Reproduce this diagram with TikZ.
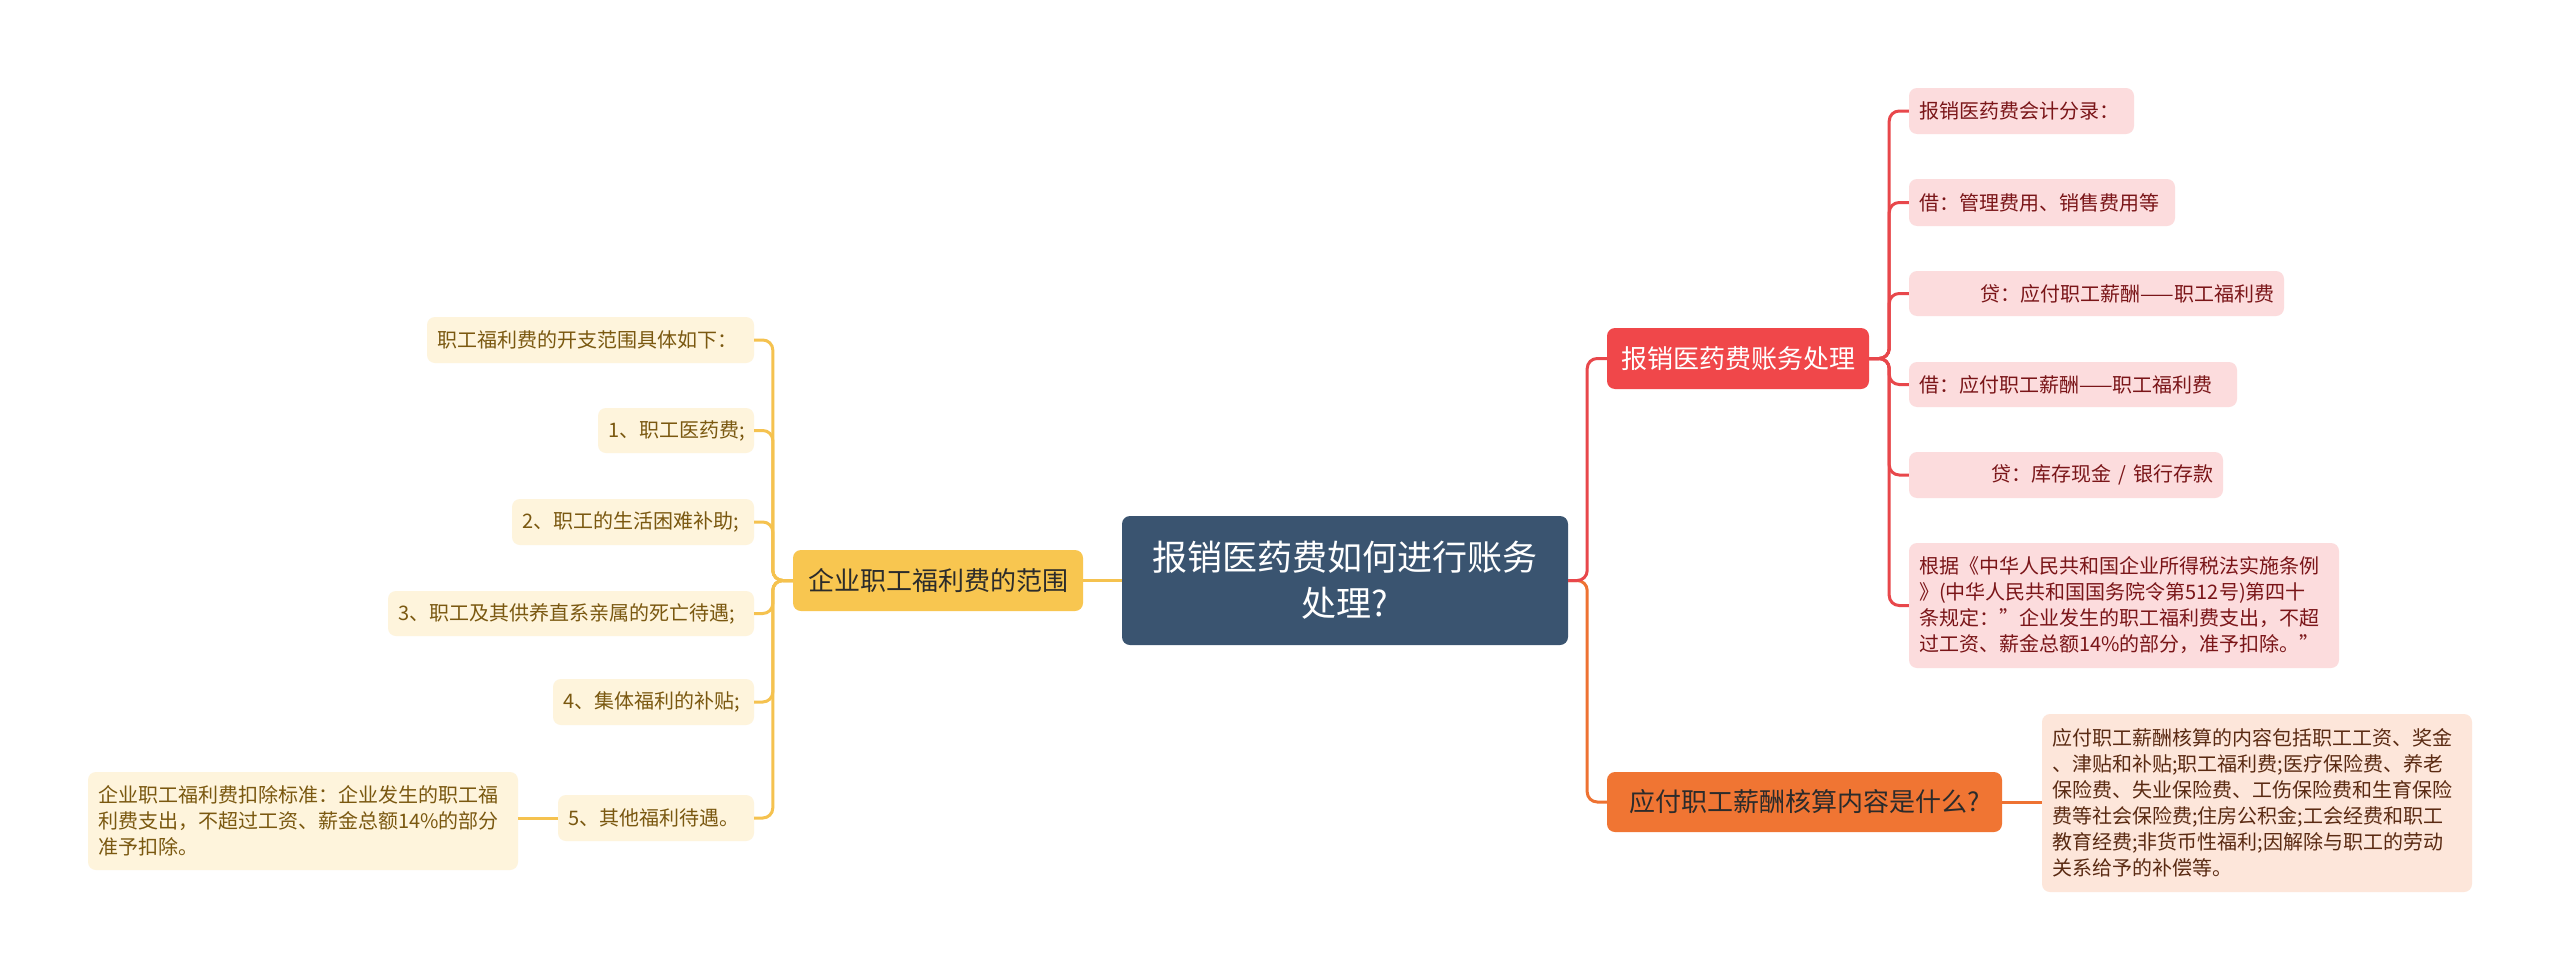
\documentclass[tikz,border=0pt]{standalone}
\usepackage{fontspec}
\newfontfamily\cjk{Noto Sans CJK SC}
\definecolor{cen}{HTML}{3A5470}
\definecolor{redm}{HTML}{F0474A}
\definecolor{redl}{HTML}{E8474B}
\definecolor{redc}{HTML}{FCDCDD}
\definecolor{redt}{HTML}{7A1518}
\definecolor{orm}{HTML}{F07533}
\definecolor{orl}{HTML}{EE7232}
\definecolor{orc}{HTML}{FDE6DA}
\definecolor{ort}{HTML}{5A2A12}
\definecolor{yem}{HTML}{F8C650}
\definecolor{yel}{HTML}{F5C24F}
\definecolor{yec}{HTML}{FEF4DC}
\definecolor{yet}{HTML}{7A5810}
\definecolor{dk}{HTML}{2B2B2B}
\tikzset{
  box/.style={rounded corners=8pt, inner ysep=0pt, inner xsep=10pt, anchor=center},
  small/.style={font=\cjk\fontsize{20}{26}\selectfont},
  mid/.style={font=\cjk\fontsize{26}{32}\selectfont},
  cennode/.style={box, fill=cen, text=white, font=\cjk\fontsize{35}{46}\selectfont, align=center},
  redmain/.style={box, mid, fill=redm, text=white, align=center},
  ormain/.style={box, mid, fill=orm, text=dk, align=center},
  yemain/.style={box, mid, fill=yem, text=dk, align=center},
  rchild/.style={box, small, fill=redc, text=redt, align=left},
  ochild/.style={box, small, fill=orc, text=ort, align=left},
  ychild/.style={box, small, fill=yec, text=yet, align=left},
  link/.style={line width=3pt, rounded corners=10pt},
  rlink/.style={link, draw=redl},
  olink/.style={link, draw=orl},
  ylink/.style={link, draw=yel},
}
\begin{document}
\begin{tikzpicture}[x=1pt,y=-1pt]
\useasboundingbox (0,0) rectangle (2560,980);
\fill[white] (0,0) rectangle (2560,980);

% central
\node[cennode, text width=426pt, minimum height=129pt] (c) at (1345,580.5) {报销医药费如何进行账务\\处理?};

% main branches
\node[redmain, text width=242pt, minimum height=61pt] (r) at (1738,358.5) {报销医药费账务处理};
\node[ormain, text width=375pt, minimum height=60pt] (o) at (1804.5,802) {应付职工薪酬核算内容是什么?};
\node[yemain, text width=270pt, minimum height=61pt] (y) at (938,580.5) {企业职工福利费的范围};

% red children
\node[rchild, text width=205pt, minimum height=46pt] (r1) at (2021.5,111) {报销医药费会计分录：};
\node[rchild, text width=246pt, minimum height=47pt] (r2) at (2042,202.5) {借：管理费用、销售费用等};
\node[rchild, text width=355pt, minimum height=45pt, align=right] (r3) at (2096.5,293.5) {贷：应付职工薪酬——职工福利费};
\node[rchild, text width=308pt, minimum height=45pt] (r4) at (2073,384.5) {借：应付职工薪酬——职工福利费};
\node[rchild, text width=294pt, minimum height=46pt, align=right] (r5) at (2066,475) {贷：库存现金 / 银行存款};
\node[rchild, text width=410pt, minimum height=125pt] (r6) at (2124,605.5) {根据《中华人民共和国企业所得税法实施条例\\》(中华人民共和国国务院令第512号)第四十\\条规定：”企业发生的职工福利费支出，不超\\过工资、薪金总额14\%的部分，准予扣除。”};

% orange child
\node[ochild, text width=410pt, minimum height=178pt] (o1) at (2257,803) {应付职工薪酬核算的内容包括职工工资、奖金\\、津贴和补贴;职工福利费;医疗保险费、养老\\保险费、失业保险费、工伤保险费和生育保险\\费等社会保险费;住房公积金;工会经费和职工\\教育经费;非货币性福利;因解除与职工的劳动\\关系给予的补偿等。};

% yellow children
\node[ychild, text width=307pt, minimum height=46pt] (y0) at (590.5,340) {职工福利费的开支范围具体如下：};
\node[ychild, text width=136pt, minimum height=45pt] (y1) at (676,430.5) {1、职工医药费;};
\node[ychild, text width=222pt, minimum height=46pt] (y2) at (633,522) {2、职工的生活困难补助;};
\node[ychild, text width=346pt, minimum height=45pt] (y3) at (571,613.5) {3、职工及其供养直系亲属的死亡待遇;};
\node[ychild, text width=181pt, minimum height=46pt] (y4) at (653.5,702) {4、集体福利的补贴;};
\node[ychild, text width=176pt, minimum height=46pt] (y5) at (656,818) {5、其他福利待遇。};
\node[ychild, text width=410pt, minimum height=98pt] (y6) at (303,821) {企业职工福利费扣除标准：企业发生的职工福\\利费支出，不超过工资、薪金总额14\%的部分\\准予扣除。};

% connectors: central
\draw[olink] (c.east) -- ++(19,0) |- (o.west);
\draw[rlink] (c.east) -- ++(19,0) |- (r.west);
\draw[ylink] (c.west) -- (y.east);

% red
\foreach \n in {r1,r2,r3,r4,r5,r6}{
  \draw[rlink] (r.east) -- ++(20,0) |- (\n.west);
}
% orange
\draw[olink] (o.east) -- (o.east -| o1.west);
% yellow
\foreach \n in {y0,y1,y2,y3,y4,y5}{
  \draw[ylink] (y.west) -- ++(-20,0) |- (\n.east);
}
\draw[ylink] (y5.west) -- (y5.west -| y6.east);
\end{tikzpicture}
\end{document}
